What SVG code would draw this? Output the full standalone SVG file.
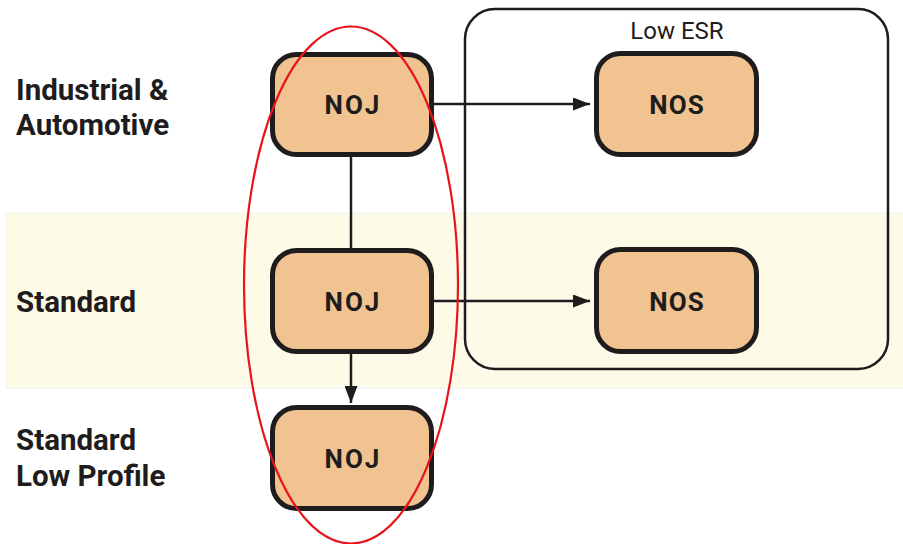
<svg xmlns="http://www.w3.org/2000/svg" width="903" height="544" viewBox="0 0 903 544">
<style>
.node rect{fill:#f0c391;stroke:#1e1c1c;stroke-width:5}
.ntxt{font-family:Roboto,"Liberation Sans",sans-serif;font-weight:700;font-size:26px;fill:#1e1c1c;text-anchor:middle;letter-spacing:2px}
.lbl{font-family:Roboto,"Liberation Sans",sans-serif;font-weight:700;font-size:29.5px;fill:#1e1c1c}
.conn line{stroke:#1e1c1c;stroke-width:2.5;fill:none}
</style>
<defs>
<marker id="arr" viewBox="0 0 17 13" refX="17" refY="6.5" markerWidth="17" markerHeight="13" markerUnits="userSpaceOnUse" orient="auto">
<path d="M0,0 L17,6.5 L0,13 Z" fill="#1e1c1c"/>
</marker>
</defs>
<rect width="903" height="544" fill="#ffffff"/>
<rect id="band" x="5" y="213" width="898" height="174" fill="#fdfae8"/>
<line x1="5" y1="388" x2="903" y2="388" stroke="#e6ecea" stroke-width="1"/>
<line x1="5" y1="213" x2="903" y2="213" stroke="#f3f3ea" stroke-width="1"/>
<g id="lowesr">
<rect x="465" y="9" width="423" height="360" rx="30" fill="none" stroke="#1e1c1c" stroke-width="2.5"/>
<text x="677" y="39" font-family="Roboto,'Liberation Sans',sans-serif" font-size="24" fill="#1e1c1c" text-anchor="middle">Low ESR</text>
</g>
<g id="labels">
<text class="lbl" x="16" y="100">Industrial &amp;</text>
<text class="lbl" x="16" y="135">Automotive</text>
<text class="lbl" x="16" y="312">Standard</text>
<text class="lbl" x="16" y="450">Standard</text>
<text class="lbl" x="16" y="486">Low Profile</text>
</g>
<g class="conn" id="connectors">
<line x1="434" y1="104" x2="590" y2="104" marker-end="url(#arr)"/>
<line x1="434" y1="301" x2="590" y2="301" marker-end="url(#arr)"/>
<line x1="351" y1="157" x2="351" y2="248"/>
<line x1="351" y1="354" x2="351" y2="403" marker-end="url(#arr)"/>
</g>
<g class="node" id="noj1"><rect x="272.5" y="54.5" width="159" height="100" rx="24"/><text class="ntxt" x="353" y="114">NOJ</text></g>
<g class="node" id="noj2"><rect x="272.5" y="250.5" width="159" height="101" rx="24"/><text class="ntxt" x="353" y="311">NOJ</text></g>
<g class="node" id="noj3"><rect x="272.5" y="407.5" width="159" height="101" rx="24"/><text class="ntxt" x="353" y="468">NOJ</text></g>
<g class="node" id="nos1"><rect x="596.5" y="53.5" width="160" height="101" rx="24"/><text class="ntxt" x="677" y="114" style="letter-spacing:1px">NOS</text></g>
<g class="node" id="nos2"><rect x="596.5" y="249.5" width="160" height="102" rx="24"/><text class="ntxt" x="677" y="311" style="letter-spacing:1px">NOS</text></g>
<ellipse id="highlight" cx="351" cy="285" rx="107" ry="258.5" fill="none" stroke="#e8141c" stroke-width="2.2"/>
</svg>
